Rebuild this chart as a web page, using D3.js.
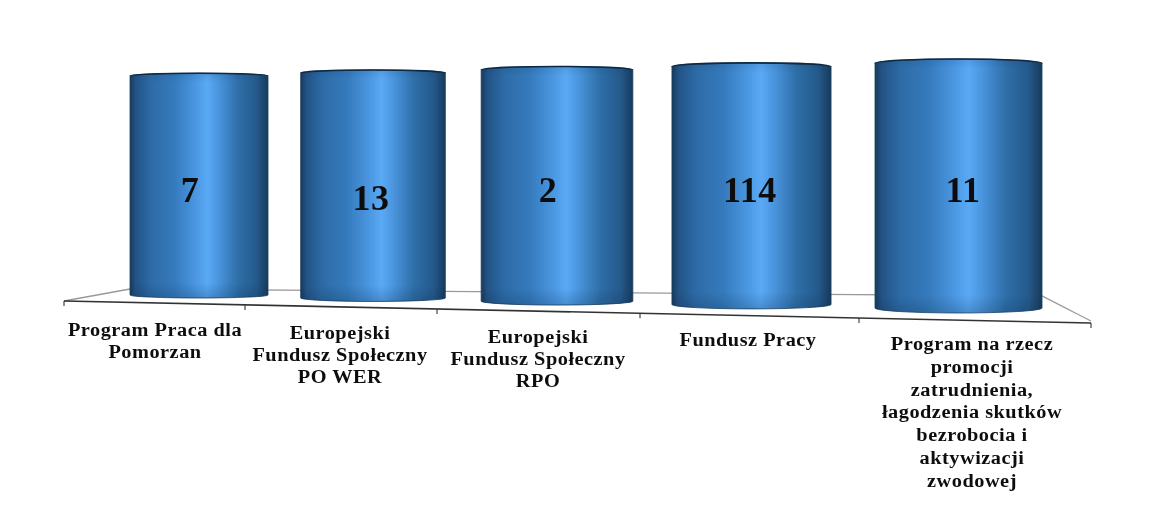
<!DOCTYPE html>
<html><head><meta charset="utf-8">
<script src="https://cdn.jsdelivr.net/npm/d3@7"></script>
<style>html,body{margin:0;padding:0;background:#fff}svg{display:block}
text{font-family:"Liberation Serif",serif;font-weight:bold;fill:#111}</style></head>
<body><svg id="c" width="1158" height="511"></svg>
<script>
const categories = ["Program Praca dla Pomorzan","Europejski Fundusz Społeczny PO WER","Europejski Fundusz Społeczny RPO","Fundusz Pracy","Program na rzecz promocji zatrudnienia, łagodzenia skutków bezrobocia i aktywizacji zwodowej"];
const categoryLines = [["Program Praca dla","Pomorzan"],["Europejski","Fundusz Społeczny","PO WER"],["Europejski","Fundusz Społeczny","RPO"],["Fundusz Pracy"],["Program na rzecz","promocji","zatrudnienia,","łagodzenia skutków","bezrobocia i","aktywizacji","zwodowej"]];
const values = [7,13,2,114,11];
const shares = [100,100,100,100,100];

const svg = d3.select("#c");
const idx = d3.range(categories.length);
// perspective floor
const cx = d3.scaleLinear().domain(idx).range([199,373,557,751.5,958.5]);
const frontX = d3.scaleLinear().domain([0,1,2,3,4,5]).range([64,245,437,640,859,1091]);
const frontY = d3.scaleLinear().domain([64,1091]).range([301,323]);
const halfW = d3.scaleLinear().domain([199,958.5]).range([69,83.5]);
const baseY = d3.scaleLinear().domain([199,958.5]).range([295,308]);
const topY = d3.scaleLinear().domain([199,958.5]).range([76,63.5]);
const bulgeT = d3.scaleLinear().domain([199,958.5]).range([2.8,4.5]);
const bulgeB = d3.scaleLinear().domain([199,958.5]).range([3,5]);
const labelX = d3.scaleLinear().domain(idx).range([155,340,538,748,972]);
const labelY = d3.scaleLinear().domain([0,4]).range([330,344]);
const numX = d3.scaleLinear().domain(idx).range([190,371,548,750,963]);
const numY = d3.scaleLinear().domain(idx).range([190,198,190,190,190]);

const defs = svg.append("defs");
const g = defs.append("linearGradient").attr("id","cyl");
[[0,"#173a5c"],[0.04,"#235385"],[0.15,"#2d6ba6"],[0.32,"#357abc"],[0.47,"#4a96e0"],[0.56,"#5aa9f5"],[0.64,"#4a95de"],[0.78,"#2f6fa9"],[0.92,"#25598a"],[1,"#173a5c"]]
 .forEach(([o,c])=>g.append("stop").attr("offset",o).attr("stop-color",c));
const shade = defs.append("linearGradient").attr("id","shade").attr("x1",0).attr("x2",0).attr("y1",0).attr("y2",1);
[[0,"#0a2a4a",0.12],[0.04,"#0a2a4a",0],[0.93,"#0a2a4a",0],[1,"#0a2a4a",0.22]]
 .forEach(([o,c,a])=>shade.append("stop").attr("offset",o).attr("stop-color",c).attr("stop-opacity",a));
const blur = defs.append("filter").attr("id","soft").attr("x","-5%").attr("y","-5%").attr("width","110%").attr("height","110%");
blur.append("feGaussianBlur").attr("stdDeviation",0.45);

const root = svg.append("g").attr("filter","url(#soft)");
// floor
const floor = root.append("g").attr("fill","none");
const line = d3.line();
floor.append("path").attr("d",line([[64,301],[130,289],[1042,296],[1091,321]])).attr("stroke","#999").attr("stroke-width",1.3);
floor.append("path").attr("d",line([[frontX(0),frontY(frontX(0))],[frontX(5),frontY(frontX(5))]])).attr("stroke","#333").attr("stroke-width",1.6);
frontX.domain().forEach(t=>{const x=frontX(t);const y=frontY(x);
  floor.append("path").attr("d",line([[x,y],[x,y+5]])).attr("stroke","#333").attr("stroke-width",1.1);});

// cylinders
const share = i => d3.scaleLinear().domain([0,100]).range([baseY(cx(i)),topY(cx(i))]);
const topArc = i => {const c=cx(i),w=halfW(c),t=share(i)(shares[i]),h=bulgeT(c);return `M${c-w},${t}A${w},${h} 0 0 1 ${c+w},${t}`;};
const body = i => {const c=cx(i),w=halfW(c),y=share(i),b=y(0),bb=bulgeB(c);
   return `${topArc(i)}L${c+w},${b}A${w},${bb} 0 0 1 ${c-w},${b}Z`;};
const cyl = root.selectAll("g.cyl").data(idx).join("g").attr("class","cyl");
cyl.append("path").attr("fill","url(#cyl)").attr("stroke","#1c3f60").attr("stroke-width",0.8).attr("d",body);
cyl.append("path").attr("fill","url(#shade)").attr("d",body);
cyl.append("path").attr("fill","none").attr("stroke","#0f2a44").attr("stroke-width",1.6).attr("d",topArc);
cyl.append("text").attr("x",i=>numX(i)).attr("y",i=>numY(i)+12).attr("text-anchor","middle")
 .attr("font-size",36).attr("letter-spacing",0.6).text(i=>values[i]);

// category labels (horizontally stretched, as in the picture)
const stretch = 1.13;
root.selectAll("g.lab").data(idx).join("g").attr("class","lab").each(function(i){
  d3.select(this).attr("transform",`translate(${labelX(i)},0) scale(${stretch},1)`)
   .selectAll("text").data(categoryLines[i]).join("text")
   .attr("x",0).attr("y",(d,k)=>labelY(i)+k*(i==4?22.8:22)+6)
   .attr("text-anchor","middle").attr("font-size",18).attr("letter-spacing",0.45).text(d=>d);
});
</script></body></html>
